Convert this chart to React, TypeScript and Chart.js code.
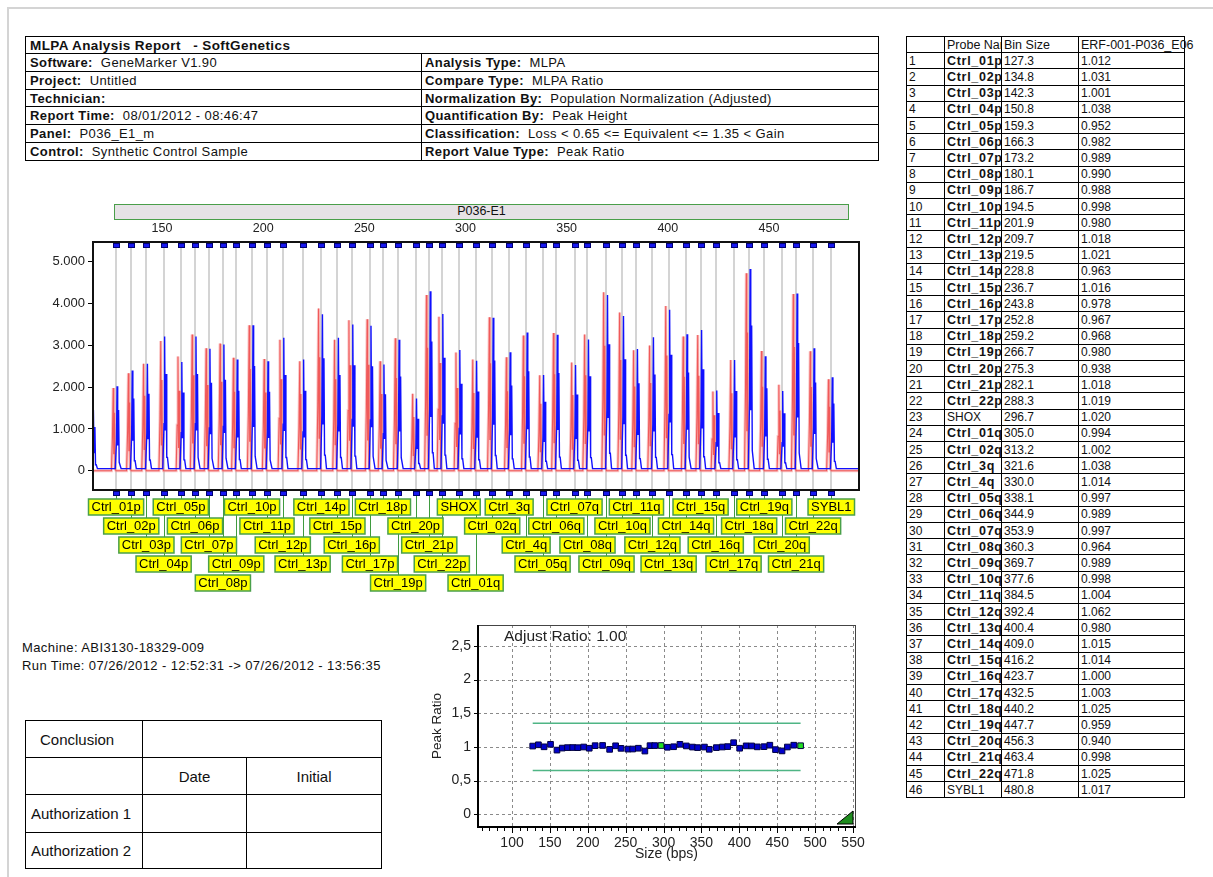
import React, { useEffect, useRef } from 'react';
import { Chart, registerables } from 'chart.js';

Chart.register(...registerables);

const FONT = "'Liberation Sans', Arial, Helvetica, sans-serif";

// ---------------- data ----------------
const PROBE_NAMES = [
  'Ctrl_01p', 'Ctrl_02p', 'Ctrl_03p', 'Ctrl_04p', 'Ctrl_05p', 'Ctrl_06p', 'Ctrl_07p', 'Ctrl_08p',
  'Ctrl_09p', 'Ctrl_10p', 'Ctrl_11p', 'Ctrl_12p', 'Ctrl_13p', 'Ctrl_14p', 'Ctrl_15p', 'Ctrl_16p',
  'Ctrl_17p', 'Ctrl_18p', 'Ctrl_19p', 'Ctrl_20p', 'Ctrl_21p', 'Ctrl_22p', 'SHOX', 'Ctrl_01q',
  'Ctrl_02q', 'Ctrl_3q', 'Ctrl_4q', 'Ctrl_05q', 'Ctrl_06q', 'Ctrl_07q', 'Ctrl_08q', 'Ctrl_09q',
  'Ctrl_10q', 'Ctrl_11q', 'Ctrl_12q', 'Ctrl_13q', 'Ctrl_14q', 'Ctrl_15q', 'Ctrl_16q', 'Ctrl_17q',
  'Ctrl_18q', 'Ctrl_19q', 'Ctrl_20q', 'Ctrl_21q', 'Ctrl_22q', 'SYBL1',
];
const BIN_SIZES = [
  127.3, 134.8, 142.3, 150.8, 159.3, 166.3, 173.2, 180.1, 186.7, 194.5, 201.9, 209.7, 219.5, 228.8,
  236.7, 243.8, 252.8, 259.2, 266.7, 275.3, 282.1, 288.3, 296.7, 305.0, 313.2, 321.6, 330.0, 338.1,
  344.9, 353.9, 360.3, 369.7, 377.6, 384.5, 392.4, 400.4, 409.0, 416.2, 423.7, 432.5, 440.2, 447.7,
  456.3, 463.4, 471.8, 480.8,
];
const PEAK_RATIOS = [
  1.012, 1.031, 1.001, 1.038, 0.952, 0.982, 0.989, 0.990, 0.988, 0.998, 0.980, 1.018, 1.021, 0.963,
  1.016, 0.978, 0.967, 0.968, 0.980, 0.938, 1.018, 1.019, 1.020, 0.994, 1.002, 1.038, 1.014, 0.997,
  0.989, 0.997, 0.964, 0.989, 0.998, 1.004, 1.062, 0.980, 1.015, 1.014, 1.000, 1.003, 1.025, 0.959,
  0.940, 0.998, 1.025, 1.017,
];
const RED_HEIGHTS = [
  1980, 2330, 2560, 3100, 2730, 3260, 2930, 3040, 2700, 3480, 2670, 3130, 2620, 3880,
  3130, 3600, 3620, 2620, 3170, 1840, 4200, 3680, 2830, 2660, 3670, 2715, 3232, 2285,
  3296, 2588, 3260, 4268, 3782, 2882, 2994, 3941, 3210, 3248, 1895, 2650, 4721, 2866,
  2054, 4228, 2860, 2190,
];
const BLUE_HEIGHTS = [
  2020, 2400, 2560, 3210, 2600, 3210, 2920, 3020, 2660, 3480, 2620, 3180, 2660, 3740,
  3180, 3500, 3470, 2540, 3130, 1730, 4290, 3750, 2890, 2630, 3660, 2834, 3304, 2290,
  3250, 2530, 3140, 4200, 3700, 2910, 3193, 3850, 3265, 3368, 1920, 2650, 4825, 2740,
  1910, 4240, 2930, 2237,
];
const LABEL_ROWS = [
  1, 2, 3, 4, 1, 2, 3, 5, 4, 1, 2, 3, 4, 1, 2, 3, 4, 1, 5, 2, 3, 4, 1, 5, 2, 1, 3, 4, 2, 1, 3, 4,
  2, 1, 3, 4, 2, 1, 3, 4, 2, 1, 3, 4, 2, 1,
];
const LEAD_PEAK_SIZE = 115.6;
const LEAD_PEAK_HEIGHT = 1450;
const BLUE_BASELINE = 50;
const SPECIAL_PROBES = ['SHOX', 'SYBL1'];

const EP_X_TICKS = [150, 200, 250, 300, 350, 400, 450];
const EP_Y_TICKS = [0, 1000, 2000, 3000, 4000, 5000];
const RATIO_X_TICKS = [100, 150, 200, 250, 300, 350, 400, 450, 500, 550];
const RATIO_Y_TICKS = [0, 0.5, 1, 1.5, 2, 2.5];
const GAIN_LIMIT = 1.35;
const LOSS_LIMIT = 0.65;
const ADJUST_RATIO = '1.00';

const HEADER_TITLE = 'MLPA Analysis Report   - SoftGenetics';
const HEADER_LEFT: [string, string][] = [
  ['Software:', 'GeneMarker V1.90'],
  ['Project:', 'Untitled'],
  ['Technician:', ''],
  ['Report Time:', '08/01/2012 - 08:46:47'],
  ['Panel:', 'P036_E1_m'],
  ['Control:', 'Synthetic Control Sample'],
];
const HEADER_RIGHT: [string, string][] = [
  ['Analysis Type:', 'MLPA'],
  ['Compare Type:', 'MLPA Ratio'],
  ['Normalization By:', 'Population Normalization (Adjusted)'],
  ['Quantification By:', 'Peak Height'],
  ['Classification:', 'Loss < 0.65 <= Equivalent <= 1.35 < Gain'],
  ['Report Value Type:', 'Peak Ratio'],
];
const TABLE_HEADERS = ['', 'Probe Name', 'Bin Size', 'ERF-001-P036_E06'];

// peak rendering templates (offset in bp, fraction of peak height)
const RED_SHAPE: [number, number][] = [
  [-2.3, 0], [-1.8, 0.4], [-1.4, 1], [-1.15, 0.2], [-0.85, 0.7], [-0.5, 0.02], [0, 0],
];
const BLUE_SHAPE: [number, number][] = [
  [-0.4, 0], [0.2, 0.35], [0.5, 1], [0.8, 0.3], [1.25, 0.72], [1.55, 0.1], [1.9, 0.1], [2.5, 0],
];

const EP_MIN = 115.9;
const EP_MAX = 494.5;

function buildRed() {
  const pts: { x: number; y: number }[] = [{ x: EP_MIN, y: 0 }];
  BIN_SIZES.forEach((s, i) => {
    RED_SHAPE.forEach(([dx, f]) => pts.push({ x: s + dx, y: f * RED_HEIGHTS[i] }));
  });
  pts.push({ x: EP_MAX, y: 0 });
  return pts;
}
function buildBlue() {
  const pts: { x: number; y: number }[] = [];
  const add = (s: number, h: number) =>
    BLUE_SHAPE.forEach(([dx, f]) => pts.push({ x: s + dx, y: Math.max(BLUE_BASELINE, f * h) }));
  add(LEAD_PEAK_SIZE, LEAD_PEAK_HEIGHT);
  BIN_SIZES.forEach((s, i) => add(s, BLUE_HEIGHTS[i]));
  pts.push({ x: EP_MAX, y: BLUE_BASELINE });
  return pts;
}

// ---------------- plugins ----------------
const epPlugin = {
  id: 'epDecor',
  beforeDatasetsDraw(chart: any) {
    const { ctx, chartArea: a, scales } = chart;
    const x = scales.x;
    ctx.save();
    ctx.strokeStyle = '#d4d4d4';
    ctx.lineWidth = 2;
    BIN_SIZES.forEach((b) => {
      const px = Math.round(x.getPixelForValue(b));
      ctx.beginPath();
      ctx.moveTo(px, a.top);
      ctx.lineTo(px, a.bottom);
      ctx.stroke();
    });
    ctx.restore();
  },
  afterDraw(chart: any) {
    const { ctx, chartArea: a, scales } = chart;
    const x = scales.x;
    ctx.save();
    // top size labels
    ctx.fillStyle = '#222';
    ctx.font = `12.5px ${FONT}`;
    ctx.textAlign = 'center';
    ctx.textBaseline = 'middle';
    EP_X_TICKS.forEach((v) => ctx.fillText(String(v), x.getPixelForValue(v), a.top - 13));
    // connectors
    ctx.strokeStyle = '#3f9b3f';
    ctx.lineWidth = 1;
    BIN_SIZES.forEach((b, i) => {
      const px = Math.round(x.getPixelForValue(b)) + 0.5;
      const top = a.bottom + 9 + (LABEL_ROWS[i] - 1) * 19;
      ctx.beginPath();
      ctx.moveTo(px, a.bottom);
      ctx.lineTo(px, top);
      ctx.stroke();
    });
    // frame
    ctx.strokeStyle = '#111';
    ctx.lineWidth = 2;
    ctx.strokeRect(a.left, a.top, a.right - a.left, a.bottom - a.top);
    // bin markers
    BIN_SIZES.forEach((b) => {
      const px = Math.round(x.getPixelForValue(b));
      [a.top + 1, a.bottom + 1].forEach((y) => {
        ctx.fillStyle = '#1818f0';
        ctx.fillRect(px - 3, y, 7, 5);
        ctx.strokeStyle = '#000070';
        ctx.lineWidth = 1;
        ctx.strokeRect(px - 2.5, y + 0.5, 6, 4);
      });
    });
    // probe labels
    ctx.font = `13px ${FONT}`;
    ctx.textAlign = 'center';
    ctx.textBaseline = 'middle';
    BIN_SIZES.forEach((b, i) => {
      const px = x.getPixelForValue(b);
      const w = ctx.measureText(PROBE_NAMES[i]).width + 6;
      const top = a.bottom + 9 + (LABEL_ROWS[i] - 1) * 19;
      ctx.fillStyle = '#ffff00';
      ctx.fillRect(px - w / 2, top, w, 16);
      ctx.strokeStyle = '#4aa04a';
      ctx.lineWidth = 1.5;
      ctx.strokeRect(px - w / 2, top, w, 16);
      ctx.fillStyle = '#000';
      ctx.fillText(PROBE_NAMES[i], px, top + 8.5);
    });
    ctx.restore();
  },
};

const ratioPlugin = {
  id: 'ratioDecor',
  beforeDatasetsDraw(chart: any) {
    const { ctx, chartArea: a, scales } = chart;
    ctx.save();
    ctx.strokeStyle = '#8a8a8a';
    ctx.lineWidth = 1;
    ctx.setLineDash([3, 3]);
    RATIO_X_TICKS.forEach((v) => {
      const px = Math.round(scales.x.getPixelForValue(v)) + 0.5;
      ctx.beginPath();
      ctx.moveTo(px, a.top);
      ctx.lineTo(px, a.bottom);
      ctx.stroke();
    });
    RATIO_Y_TICKS.forEach((v) => {
      const py = Math.round(scales.y.getPixelForValue(v)) + 0.5;
      ctx.beginPath();
      ctx.moveTo(a.left, py);
      ctx.lineTo(a.right, py);
      ctx.stroke();
    });
    ctx.restore();
  },
  afterDraw(chart: any) {
    const { ctx, chartArea: a, scales } = chart;
    ctx.save();
    // frame
    ctx.strokeStyle = '#444';
    ctx.lineWidth = 1;
    ctx.strokeRect(a.left + 0.5, a.top + 0.5, a.right - a.left, a.bottom - a.top);
    ctx.strokeStyle = '#000';
    ctx.lineWidth = 2;
    ctx.beginPath();
    ctx.moveTo(a.left, a.top);
    ctx.lineTo(a.left, a.bottom);
    ctx.lineTo(a.right + 1, a.bottom);
    ctx.stroke();
    // x ticks (major + minor)
    ctx.lineWidth = 1;
    for (let v = 60; v <= 550; v += 10) {
      const px = Math.round(scales.x.getPixelForValue(v)) + 0.5;
      const len = v % 50 === 0 ? 5 : 3;
      ctx.beginPath();
      ctx.moveTo(px, a.bottom + 1);
      ctx.lineTo(px, a.bottom + 1 + len);
      ctx.stroke();
    }
    // y tick marks
    RATIO_Y_TICKS.forEach((v) => {
      const py = Math.round(scales.y.getPixelForValue(v)) + 0.5;
      ctx.beginPath();
      ctx.moveTo(a.left - 4, py);
      ctx.lineTo(a.left, py);
      ctx.stroke();
    });
    // tick labels
    ctx.fillStyle = '#222';
    ctx.font = `14px ${FONT}`;
    ctx.textAlign = 'center';
    ctx.textBaseline = 'middle';
    RATIO_X_TICKS.forEach((v) => ctx.fillText(String(v), scales.x.getPixelForValue(v), a.bottom + 16));
    ctx.textAlign = 'right';
    RATIO_Y_TICKS.forEach((v) =>
      ctx.fillText(String(v).replace('.', ','), a.left - 7, scales.y.getPixelForValue(v)),
    );
    // texts
    ctx.font = `15.5px ${FONT}`;
    ctx.textAlign = 'left';
    ctx.fillText(`Adjust Ratio: ${ADJUST_RATIO}`, a.left + 26, a.top + 12);
    ctx.font = `14px ${FONT}`;
    ctx.textAlign = 'center';
    ctx.fillText('Size (bps)', (a.left + a.right) / 2, a.bottom + 27);
    ctx.save();
    ctx.font = `13.5px ${FONT}`;
    ctx.translate(17, (a.top + a.bottom) / 2);
    ctx.rotate(-Math.PI / 2);
    ctx.fillText('Peak Ratio', 0, 0);
    ctx.restore();
    // corner triangle
    ctx.fillStyle = '#1e8c1e';
    ctx.strokeStyle = '#000';
    ctx.lineWidth = 1;
    ctx.beginPath();
    ctx.moveTo(a.right - 2, a.bottom - 16);
    ctx.lineTo(a.right - 2, a.bottom - 3);
    ctx.lineTo(a.right - 18, a.bottom - 3);
    ctx.closePath();
    ctx.fill();
    ctx.stroke();
    ctx.restore();
  },
};

// ---------------- components ----------------
type CellProps = {
  x: number; y: number; w: number; h: number;
  children?: React.ReactNode; style?: React.CSSProperties;
};
function Cell({ x, y, w, h, children, style }: CellProps) {
  return (
    <div
      style={{
        position: 'absolute', left: x, top: y, width: w + 1, height: h + 1,
        border: '1px solid #000', boxSizing: 'border-box', overflow: 'hidden',
        whiteSpace: 'pre', display: 'flex', alignItems: 'center', ...style,
      }}
    >
      {children}
    </div>
  );
}

export default function App() {
  const epRef = useRef<HTMLCanvasElement | null>(null);
  const ratioRef = useRef<HTMLCanvasElement | null>(null);

  useEffect(() => {
    Chart.defaults.font.family = FONT;
    Chart.defaults.color = '#222';
    const redPts = buildRed();
    const ep = new Chart(epRef.current as HTMLCanvasElement, {
      type: 'line',
      data: {
        datasets: [
          { data: buildBlue(), borderColor: '#1010ff', borderWidth: 1.4, pointRadius: 0, tension: 0 },
          { data: redPts, borderColor: '#f05a5a', borderWidth: 1.1, pointRadius: 0, tension: 0 },
          { data: redPts, borderColor: 'rgba(246,150,150,0.55)', borderWidth: 3, pointRadius: 0, tension: 0 },
        ],
      },
      options: {
        animation: false,
        responsive: false,
        layout: { padding: { left: 0, right: 21, top: 0, bottom: 114 } },
        plugins: { legend: { display: false }, tooltip: { enabled: false } },
        scales: {
          x: {
            type: 'linear', position: 'top', min: EP_MIN, max: EP_MAX,
            grid: { display: false }, border: { display: false },
            afterFit: (axis: any) => { axis.height = 20; },
            ticks: { display: false },
          },
          y: {
            type: 'linear', min: -460, max: 5470,
            grid: { display: true, drawOnChartArea: false, drawTicks: true, tickLength: 5, color: '#000' },
            border: { display: false },
            afterBuildTicks: (axis: any) => { axis.ticks = EP_Y_TICKS.map((v) => ({ value: v })); },
            afterFit: (axis: any) => { axis.width = 93; },
            ticks: {
              padding: 3, font: { size: 13 }, color: '#222',
              callback: (v: any) => (Number(v) === 0 ? '0' : `${Number(v) / 1000}.000`),
            },
          },
        },
      },
      plugins: [epPlugin],
    } as any);

    const pointColors = PROBE_NAMES.map((n) => (SPECIAL_PROBES.includes(n) ? '#22dd22' : '#0000cc'));
    const ratio = new Chart(ratioRef.current as HTMLCanvasElement, {
      type: 'scatter',
      data: {
        datasets: [
          {
            data: BIN_SIZES.map((b, i) => ({ x: b, y: PEAK_RATIOS[i] })),
            pointStyle: 'rect', pointRadius: 4, backgroundColor: pointColors,
            borderColor: '#000040', borderWidth: 1,
          },
          {
            type: 'line',
            data: [{ x: BIN_SIZES[0], y: GAIN_LIMIT }, { x: BIN_SIZES[BIN_SIZES.length - 1], y: GAIN_LIMIT }],
            borderColor: '#4fb585', borderWidth: 1.5, pointRadius: 0,
          },
          {
            type: 'line',
            data: [{ x: BIN_SIZES[0], y: LOSS_LIMIT }, { x: BIN_SIZES[BIN_SIZES.length - 1], y: LOSS_LIMIT }],
            borderColor: '#4fb585', borderWidth: 1.5, pointRadius: 0,
          },
        ],
      },
      options: {
        animation: false,
        responsive: false,
        layout: { padding: { left: 0, right: 15, top: 10, bottom: 0 } },
        plugins: { legend: { display: false }, tooltip: { enabled: false } },
        scales: {
          x: {
            type: 'linear', min: 55.1, max: 552.6,
            grid: { display: false }, border: { display: false },
            afterFit: (axis: any) => { axis.height = 43; },
            ticks: { display: false },
          },
          y: {
            type: 'linear', min: -0.19, max: 2.81,
            grid: { display: false }, border: { display: false },
            afterFit: (axis: any) => { axis.width = 58; },
            ticks: { display: false },
          },
        },
      },
      plugins: [ratioPlugin],
    } as any);

    return () => {
      ep.destroy();
      ratio.destroy();
    };
  }, []);

  const headerRowTop = (i: number) => 53 + i * 17.83;
  const tRow = 16.2;
  const tCols = [906, 944, 1001, 1078, 1184];
  const hdrText: React.CSSProperties = { fontSize: 13, letterSpacing: 0.4, paddingLeft: 4 };

  return (
    <div
      style={{
        position: 'absolute', left: 0, top: 0, width: 1213, height: 877, overflow: 'hidden',
        background: '#fff', fontFamily: FONT, color: '#111',
      }}
    >
      {/* page frame */}
      <div style={{ position: 'absolute', left: 7, top: 7, width: 1300, height: 1000, borderTop: '2px solid #d4d4d4', borderLeft: '2px solid #d4d4d4' }} />

      {/* header table */}
      <Cell x={25} y={36} w={853} h={17} style={{ fontWeight: 'bold', fontSize: 13.5, letterSpacing: 0.4, paddingLeft: 4 }}>
        {HEADER_TITLE}
      </Cell>
      {HEADER_LEFT.map(([k, v], i) => (
        <Cell key={'l' + i} x={25} y={headerRowTop(i)} w={396} h={17.83} style={hdrText}>
          <b>{k}</b>{'  ' + v}
        </Cell>
      ))}
      {HEADER_RIGHT.map(([k, v], i) => (
        <Cell key={'r' + i} x={421} y={headerRowTop(i)} w={457} h={17.83} style={{ ...hdrText, paddingLeft: 3 }}>
          <b>{k}</b>{'  ' + v}
        </Cell>
      ))}

      {/* electropherogram */}
      <div
        style={{
          position: 'absolute', left: 114, top: 204, width: 735, height: 16, boxSizing: 'border-box',
          background: '#e6e2e6', border: '1.5px solid #4a9e4a', fontSize: 12.5, textAlign: 'center', lineHeight: '13px',
        }}
      >
        P036-E1
      </div>
      <div style={{ position: 'absolute', left: 0, top: 222 }}>
        <canvas ref={epRef} width={880} height={382} style={{ display: 'block' }} />
      </div>

      {/* run info */}
      <div style={{ position: 'absolute', left: 22, top: 640, fontSize: 13, letterSpacing: 0.4, whiteSpace: 'pre' }}>
        Machine: ABI3130-18329-009
      </div>
      <div style={{ position: 'absolute', left: 22, top: 658, fontSize: 13, letterSpacing: 0.4, whiteSpace: 'pre' }}>
        Run Time: 07/26/2012 - 12:52:31 -&gt; 07/26/2012 - 13:56:35
      </div>

      {/* conclusion table */}
      <Cell x={25} y={720} w={117} h={37} style={{ fontSize: 15, paddingLeft: 14 }}>Conclusion</Cell>
      <Cell x={142} y={720} w={239} h={37} />
      <Cell x={25} y={757} w={117} h={37} />
      <Cell x={142} y={757} w={104} h={37} style={{ fontSize: 15, justifyContent: 'center' }}>Date</Cell>
      <Cell x={246} y={757} w={135} h={37} style={{ fontSize: 15, justifyContent: 'center' }}>Initial</Cell>
      <Cell x={25} y={794} w={117} h={38} style={{ fontSize: 15, paddingLeft: 5 }}>Authorization 1</Cell>
      <Cell x={142} y={794} w={104} h={38} />
      <Cell x={246} y={794} w={135} h={38} />
      <Cell x={25} y={832} w={117} h={36} style={{ fontSize: 15, paddingLeft: 5 }}>Authorization 2</Cell>
      <Cell x={142} y={832} w={104} h={36} />
      <Cell x={246} y={832} w={135} h={36} />

      {/* ratio chart */}
      <div style={{ position: 'absolute', left: 420, top: 615 }}>
        <canvas ref={ratioRef} width={450} height={255} style={{ display: 'block' }} />
      </div>

      {/* result table */}
      {TABLE_HEADERS.map((h, c) => (
        <Cell
          key={'th' + c} x={tCols[c]} y={36} w={tCols[c + 1] - tCols[c]} h={tRow}
          style={{ fontSize: 12.5, paddingLeft: 2, overflow: c === 3 ? 'visible' : 'hidden' }}
        >
          {h}
        </Cell>
      ))}
      {PROBE_NAMES.map((n, i) => {
        const y = 36 + tRow * (i + 1);
        const cells = [String(i + 1), n, BIN_SIZES[i].toFixed(1), PEAK_RATIOS[i].toFixed(3)];
        return cells.map((t, c) => {
          const bold = c === 1 && !SPECIAL_PROBES.includes(n);
          return (
            <Cell
              key={`td${i}-${c}`} x={tCols[c]} y={y} w={tCols[c + 1] - tCols[c]} h={tRow}
              style={{
                fontSize: bold ? 12.5 : 12, letterSpacing: bold ? 0.7 : 0, paddingLeft: 2,
                fontWeight: bold ? 'bold' : 'normal',
              }}
            >
              {t}
            </Cell>
          );
        });
      })}
    </div>
  );
}
